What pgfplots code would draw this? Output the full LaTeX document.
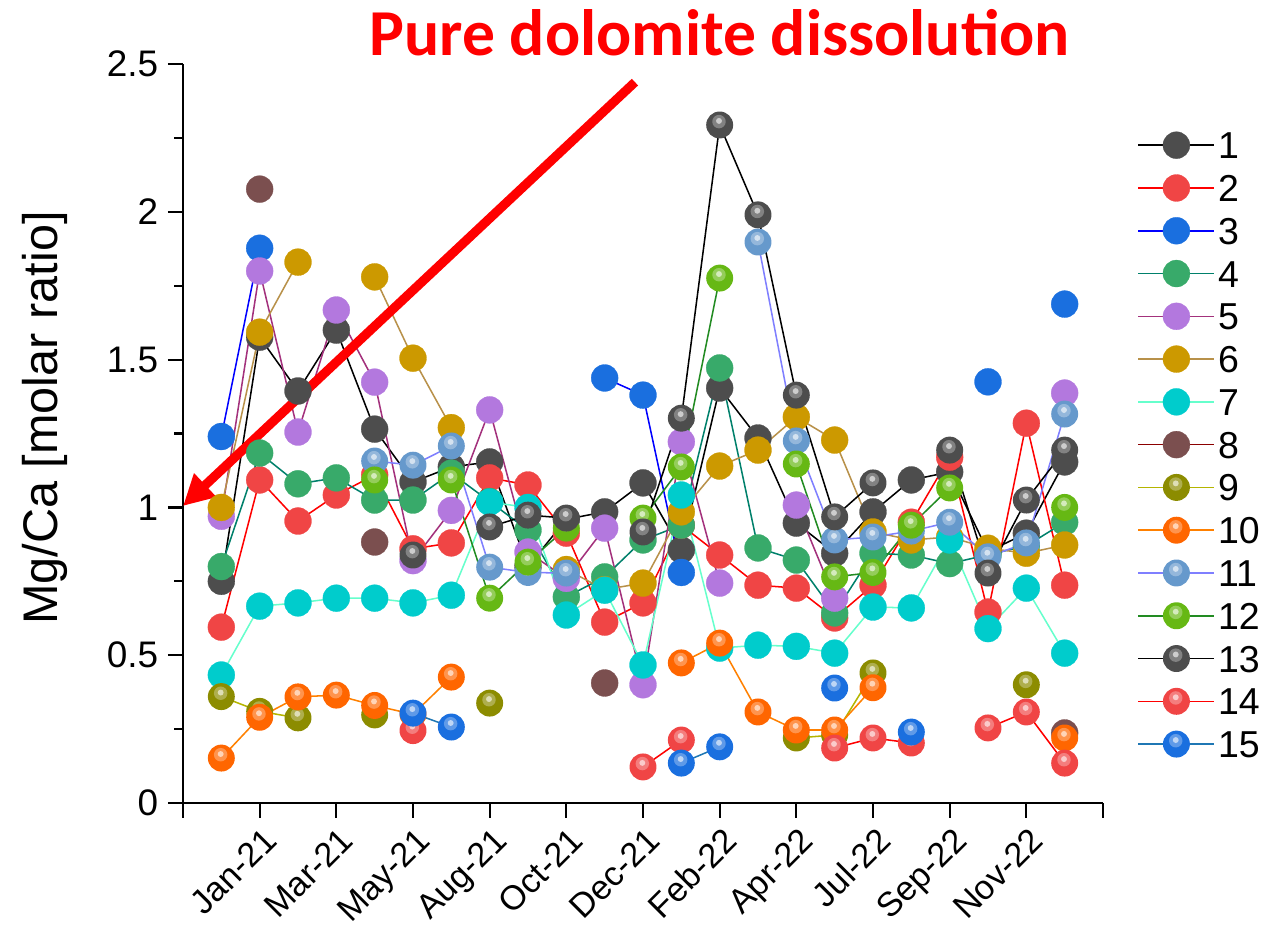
\documentclass[border=0pt]{standalone}
\usepackage{fontspec}
\setmainfont{Liberation Sans}
\newfontfamily\calloutfont{Carlito}
\usepackage{pgfplots}
\usepackage{pgfplotstable}
\pgfplotsset{compat=1.18}
\usetikzlibrary{arrows.meta}

% marker fills and line colours of the 15 sites
\definecolor{mA}{HTML}{4D4D4D}
\definecolor{mB}{HTML}{F04545}
\definecolor{mC}{HTML}{1A6FDF}
\definecolor{mD}{HTML}{38AA6A}
\definecolor{mE}{HTML}{B378DE}
\definecolor{mF}{HTML}{CC9900}
\definecolor{mG}{HTML}{00CCCC}
\definecolor{mH}{HTML}{7B4F4F}
\definecolor{mI}{HTML}{8C8C00}
\definecolor{mJ}{HTML}{FF6600}
\definecolor{mK}{HTML}{6699CC}
\definecolor{mL}{HTML}{66B814}
\definecolor{lD}{HTML}{00806B}
\definecolor{lE}{HTML}{A3317C}
\definecolor{lF}{HTML}{B8914A}
\definecolor{lG}{HTML}{66FFCC}
\definecolor{lH}{HTML}{8B0000}
\definecolor{lI}{HTML}{B5B500}
\definecolor{lJ}{HTML}{FF8000}
\definecolor{lK}{HTML}{7F7FFF}
\definecolor{lL}{HTML}{228B22}
\definecolor{lO}{HTML}{1F77B4}

% shaded ball marker: flat disc with a soft white highlight
\pgfdeclareplotmark{sphere}{%
  \pgfpathcircle{\pgfpointorigin}{\pgfplotmarksize}%
  \pgfusepathqfill
  \begin{pgfscope}
    \pgfsetfillcolor{white}%
    \pgfsetfillopacity{0.3}%
    \pgfpathcircle{\pgfpoint{-0.05\pgfplotmarksize}{0.25\pgfplotmarksize}}{0.5\pgfplotmarksize}%
    \pgfusepathqfill
    \pgfsetfillopacity{0.6}%
    \pgfpathcircle{\pgfpoint{-0.05\pgfplotmarksize}{0.3\pgfplotmarksize}}{0.22\pgfplotmarksize}%
    \pgfusepathqfill
  \end{pgfscope}
}

\pgfplotsset{
  ser/.style n args={3}{color=#2, line width=0.55pt, mark=#3,
    mark size=4.85pt, mark options={solid, fill=#1, draw=#1, line width=0.1pt}},
  s1/.style={ser={mA}{black}{*}},
  s2/.style={ser={mB}{red}{*}},
  s3/.style={ser={mC}{blue}{*}},
  s4/.style={ser={mD}{lD}{*}},
  s5/.style={ser={mE}{lE}{*}},
  s6/.style={ser={mF}{lF}{*}},
  s7/.style={ser={mG}{lG}{*}},
  s8/.style={ser={mH}{lH}{*}},
  s9/.style={ser={mI}{lI}{sphere}},
  s10/.style={ser={mJ}{lJ}{sphere}},
  s11/.style={ser={mK}{lK}{sphere}},
  s12/.style={ser={mL}{lL}{sphere}},
  s13/.style={ser={mA}{black}{sphere}},
  s14/.style={ser={mB}{red}{sphere}},
  s15/.style={ser={mC}{lO}{sphere}},
}

% Mg/Ca molar ratio per sampling round (x = position on the time axis)
\pgfplotstableread{
x y
0.5 0.75
1 1.576
1.5 1.394
2 1.60
2.5 1.265
3 1.086
3.5 1.137
4 1.154
4.5 0.80
5 0.96
5.5 0.985
6 1.083
6.5 0.856
7 1.404
7.5 1.235
8 0.947
8.5 0.845
9 0.985
9.5 1.093
10 1.12
10.5 0.85
11 0.913
11.5 1.154
}\sA
\pgfplotstableread{
x y
0.5 0.595
1 1.093
1.5 0.954
2 1.042
2.5 1.11
3 0.86
3.5 0.88
4 1.10
4.5 1.076
5 0.913
5.5 0.612
6 0.677
6.5 0.94
7 0.839
7.5 0.737
8 0.727
8.5 0.626
9 0.737
9.5 0.95
10 1.17
10.5 0.646
11 1.285
11.5 0.737
}\sB
\pgfplotstableread{
x y
0.5 1.24
1 1.877
1.5 nan
5.5 1.438
6 1.38
6.5 0.78
7 nan
10.5 1.425
11 nan
11.5 1.688
}\sC
\pgfplotstableread{
x y
0.5 0.80
1 1.184
1.5 1.08
2 1.10
2.5 1.025
3 1.025
3.5 1.116
4 1.02
4.5 0.923
5 0.697
5.5 0.765
6 0.89
6.5 0.94
7 1.472
7.5 0.863
8 0.822
8.5 0.643
9 0.845
9.5 0.839
10 0.81
10.5 0.84
11 0.87
11.5 0.95
}\sD
\pgfplotstableread{
x y
0.5 0.97
1 1.80
1.5 1.255
2 1.668
2.5 1.424
3 0.82
3.5 0.99
4 1.33
4.5 0.849
5 0.76
5.5 0.93
6 0.40
6.5 1.222
7 0.744
7.5 nan
8 1.008
8.5 0.693
9 nan
11.5 1.387
}\sE
\pgfplotstableread{
x y
0.5 1.00
1 1.593
1.5 1.83
2 nan
2.5 1.78
3 1.505
3.5 1.27
4 nan
5 0.79
5.5 0.722
6 0.744
6.5 0.985
7 1.14
7.5 1.194
8 1.306
8.5 1.228
9 0.917
9.5 0.89
10 0.90
10.5 0.862
11 0.845
11.5 0.873
}\sF
\pgfplotstableread{
x y
0.5 0.433
1 0.666
1.5 0.677
2 0.693
2.5 0.693
3 0.677
3.5 0.703
4 1.018
4.5 1.00
5 0.636
5.5 0.72
6 0.467
6.5 1.042
7 0.524
7.5 0.534
8 0.53
8.5 0.507
9 0.663
9.5 0.66
10 0.89
10.5 0.59
11 0.727
11.5 0.507
}\sG
\pgfplotstableread{
x y
1 2.077
1.5 nan
2.5 0.883
3 nan
5.5 0.406
6 nan
11.5 0.237
}\sH
\pgfplotstableread{
x y
0.5 0.36
1 0.31
1.5 0.288
2 nan
2.5 0.298
3 nan
4 0.338
4.5 nan
8 0.22
8.5 0.23
9 0.44
9.5 nan
11 0.40
}\sI
\pgfplotstableread{
x y
0.5 0.152
1 0.29
1.5 0.359
2 0.365
2.5 0.33
3 0.30
3.5 0.426
4 nan
6.5 0.474
7 0.541
7.5 0.308
8 0.247
8.5 0.247
9 0.39
9.5 nan
11.5 0.22
}\sJ
\pgfplotstableread{
x y
2.5 1.157
3 1.143
3.5 1.208
4 0.798
4.5 0.78
5 0.778
5.5 nan
7.5 1.898
8 1.225
8.5 0.89
9 0.90
9.5 0.92
10 0.95
10.5 0.833
11 0.88
11.5 1.316
}\sK
\pgfplotstableread{
x y
2.5 1.093
3 nan
3.5 1.093
4 0.693
4.5 0.815
5 0.93
5.5 nan
6 0.964
6.5 1.137
7 1.776
7.5 nan
8 1.147
8.5 0.765
9 0.78
9.5 0.94
10 1.066
10.5 nan
11.5 1.00
}\sL
\pgfplotstableread{
x y
3 0.839
3.5 nan
4 0.934
4.5 0.974
5 0.964
5.5 nan
6 0.917
6.5 1.302
7 2.294
7.5 1.99
8 1.38
8.5 0.968
9 1.083
9.5 nan
10 1.194
10.5 0.778
11 1.025
11.5 1.194
}\sM
\pgfplotstableread{
x y
3 0.245
3.5 nan
6 0.122
6.5 0.213
7 nan
8.5 0.186
9 0.22
9.5 0.203
10 nan
10.5 0.254
11 0.308
11.5 0.135
}\sN
\pgfplotstableread{
x y
3 0.304
3.5 0.257
4 nan
6.5 0.135
7 0.19
7.5 nan
8.5 0.389
9 nan
9.5 0.24
}\sO

\begin{document}
\begin{tikzpicture}
\begin{axis}[
  scale only axis, width=331.2pt, height=266pt,
  xmin=0, xmax=12, ymin=0, ymax=2.5,
  clip=false, unbounded coords=jump,
  axis x line*=bottom, axis y line*=left,
  axis line style={line width=0.8pt, -},
  xtick={0,...,12},
  xticklabels={,Jan-21,Mar-21,May-21,Aug-21,Oct-21,Dec-21,Feb-22,Apr-22,Jul-22,Sep-22,Nov-22,},
  ytick={0,0.5,1,1.5,2,2.5}, minor y tick num=1,
  tick align=outside, tick style={line width=0.8pt, black},
  major tick length=5.4pt, minor tick length=3.2pt,
  tick label style={font=\fontsize{13.3}{16}\selectfont},
  /pgf/number format/assume math mode=true,
  yticklabel style={/pgf/number format/fixed},
  xticklabel style={rotate=45, anchor=north east, xshift=2pt, yshift=1pt,
    font=\fontsize{12.3}{15}\selectfont},
  ylabel={Mg/Ca [molar ratio]},
  ylabel style={font=\fontsize{17.5}{20}\selectfont, at={(axis description cs:-0.15,0.521)}, anchor=center},
  legend cell align=left,
  legend image code/.code={\draw[mark repeat=2, mark phase=2, #1] plot coordinates {(0pt,0pt) (13.7pt,0pt) (27.4pt,0pt)};},
  legend style={at={(rel axis cs:1.037,0.913)}, anchor=north west, draw=none, fill=none,
    font=\fontsize{13.5}{16}\selectfont, inner sep=0pt, row sep=3.7pt,
    nodes={inner sep=1pt, text height=9.7pt, text depth=0pt}},
]
\coordinate (O) at (rel axis cs:0,0);
% connecting lines first, so every marker sits on top of them
\addplot[s1, no markers, forget plot] table {\sA};
\addplot[s2, no markers, forget plot] table {\sB};
\addplot[s3, no markers, forget plot] table {\sC};
\addplot[s4, no markers, forget plot] table {\sD};
\addplot[s5, no markers, forget plot] table {\sE};
\addplot[s6, no markers, forget plot] table {\sF};
\addplot[s7, no markers, forget plot] table {\sG};
\addplot[s8, no markers, forget plot] table {\sH};
\addplot[s9, no markers, forget plot] table {\sI};
\addplot[s10, no markers, forget plot] table {\sJ};
\addplot[s11, no markers, forget plot] table {\sK};
\addplot[s12, no markers, forget plot] table {\sL};
\addplot[s13, no markers, forget plot] table {\sM};
\addplot[s14, no markers, forget plot] table {\sN};
\addplot[s15, no markers, forget plot] table {\sO};
% markers
\addplot[s1, only marks, forget plot] table {\sA};
\addplot[s2, only marks, forget plot] table {\sB};
\addplot[s3, only marks, forget plot] table {\sC};
\addplot[s4, only marks, forget plot] table {\sD};
\addplot[s5, only marks, forget plot] table {\sE};
\addplot[s6, only marks, forget plot] table {\sF};
\addplot[s7, only marks, forget plot] table {\sG};
\addplot[s8, only marks, forget plot] table {\sH};
\addplot[s9, only marks, forget plot] table {\sI};
\addplot[s10, only marks, forget plot] table {\sJ};
\addplot[s11, only marks, forget plot] table {\sK};
\addplot[s12, only marks, forget plot] table {\sL};
\addplot[s13, only marks, forget plot] table {\sM};
\addplot[s14, only marks, forget plot] table {\sN};
\addplot[s15, only marks, forget plot] table {\sO};
\addlegendimage{s1}\addlegendimage{s2}\addlegendimage{s3}\addlegendimage{s4}
\addlegendimage{s5}\addlegendimage{s6}\addlegendimage{s7}\addlegendimage{s8}
\addlegendimage{s9}\addlegendimage{s10}\addlegendimage{s11}\addlegendimage{s12}
\addlegendimage{s13}\addlegendimage{s14}\addlegendimage{s15}
\legend{1,2,3,4,5,6,7,8,9,10,11,12,13,14,15}
% callout
\draw[red, line width=3.3pt, -{Triangle[length=11pt, width=11pt]}]
  (axis cs:5.895,2.439) -- (axis cs:0,1.005);
\node[anchor=base, text=red, inner sep=0pt, font=\calloutfont\bfseries\fontsize{23.6}{28}\selectfont]
  at (axis cs:7.0,2.53) {Pure dolomite dissolution};
\end{axis}
\pgfresetboundingbox
\path[use as bounding box] ([shift={(-65.88pt,-44.64pt)}]O) rectangle ([shift={(394.2pt,289.08pt)}]O);
\end{tikzpicture}
\end{document}
